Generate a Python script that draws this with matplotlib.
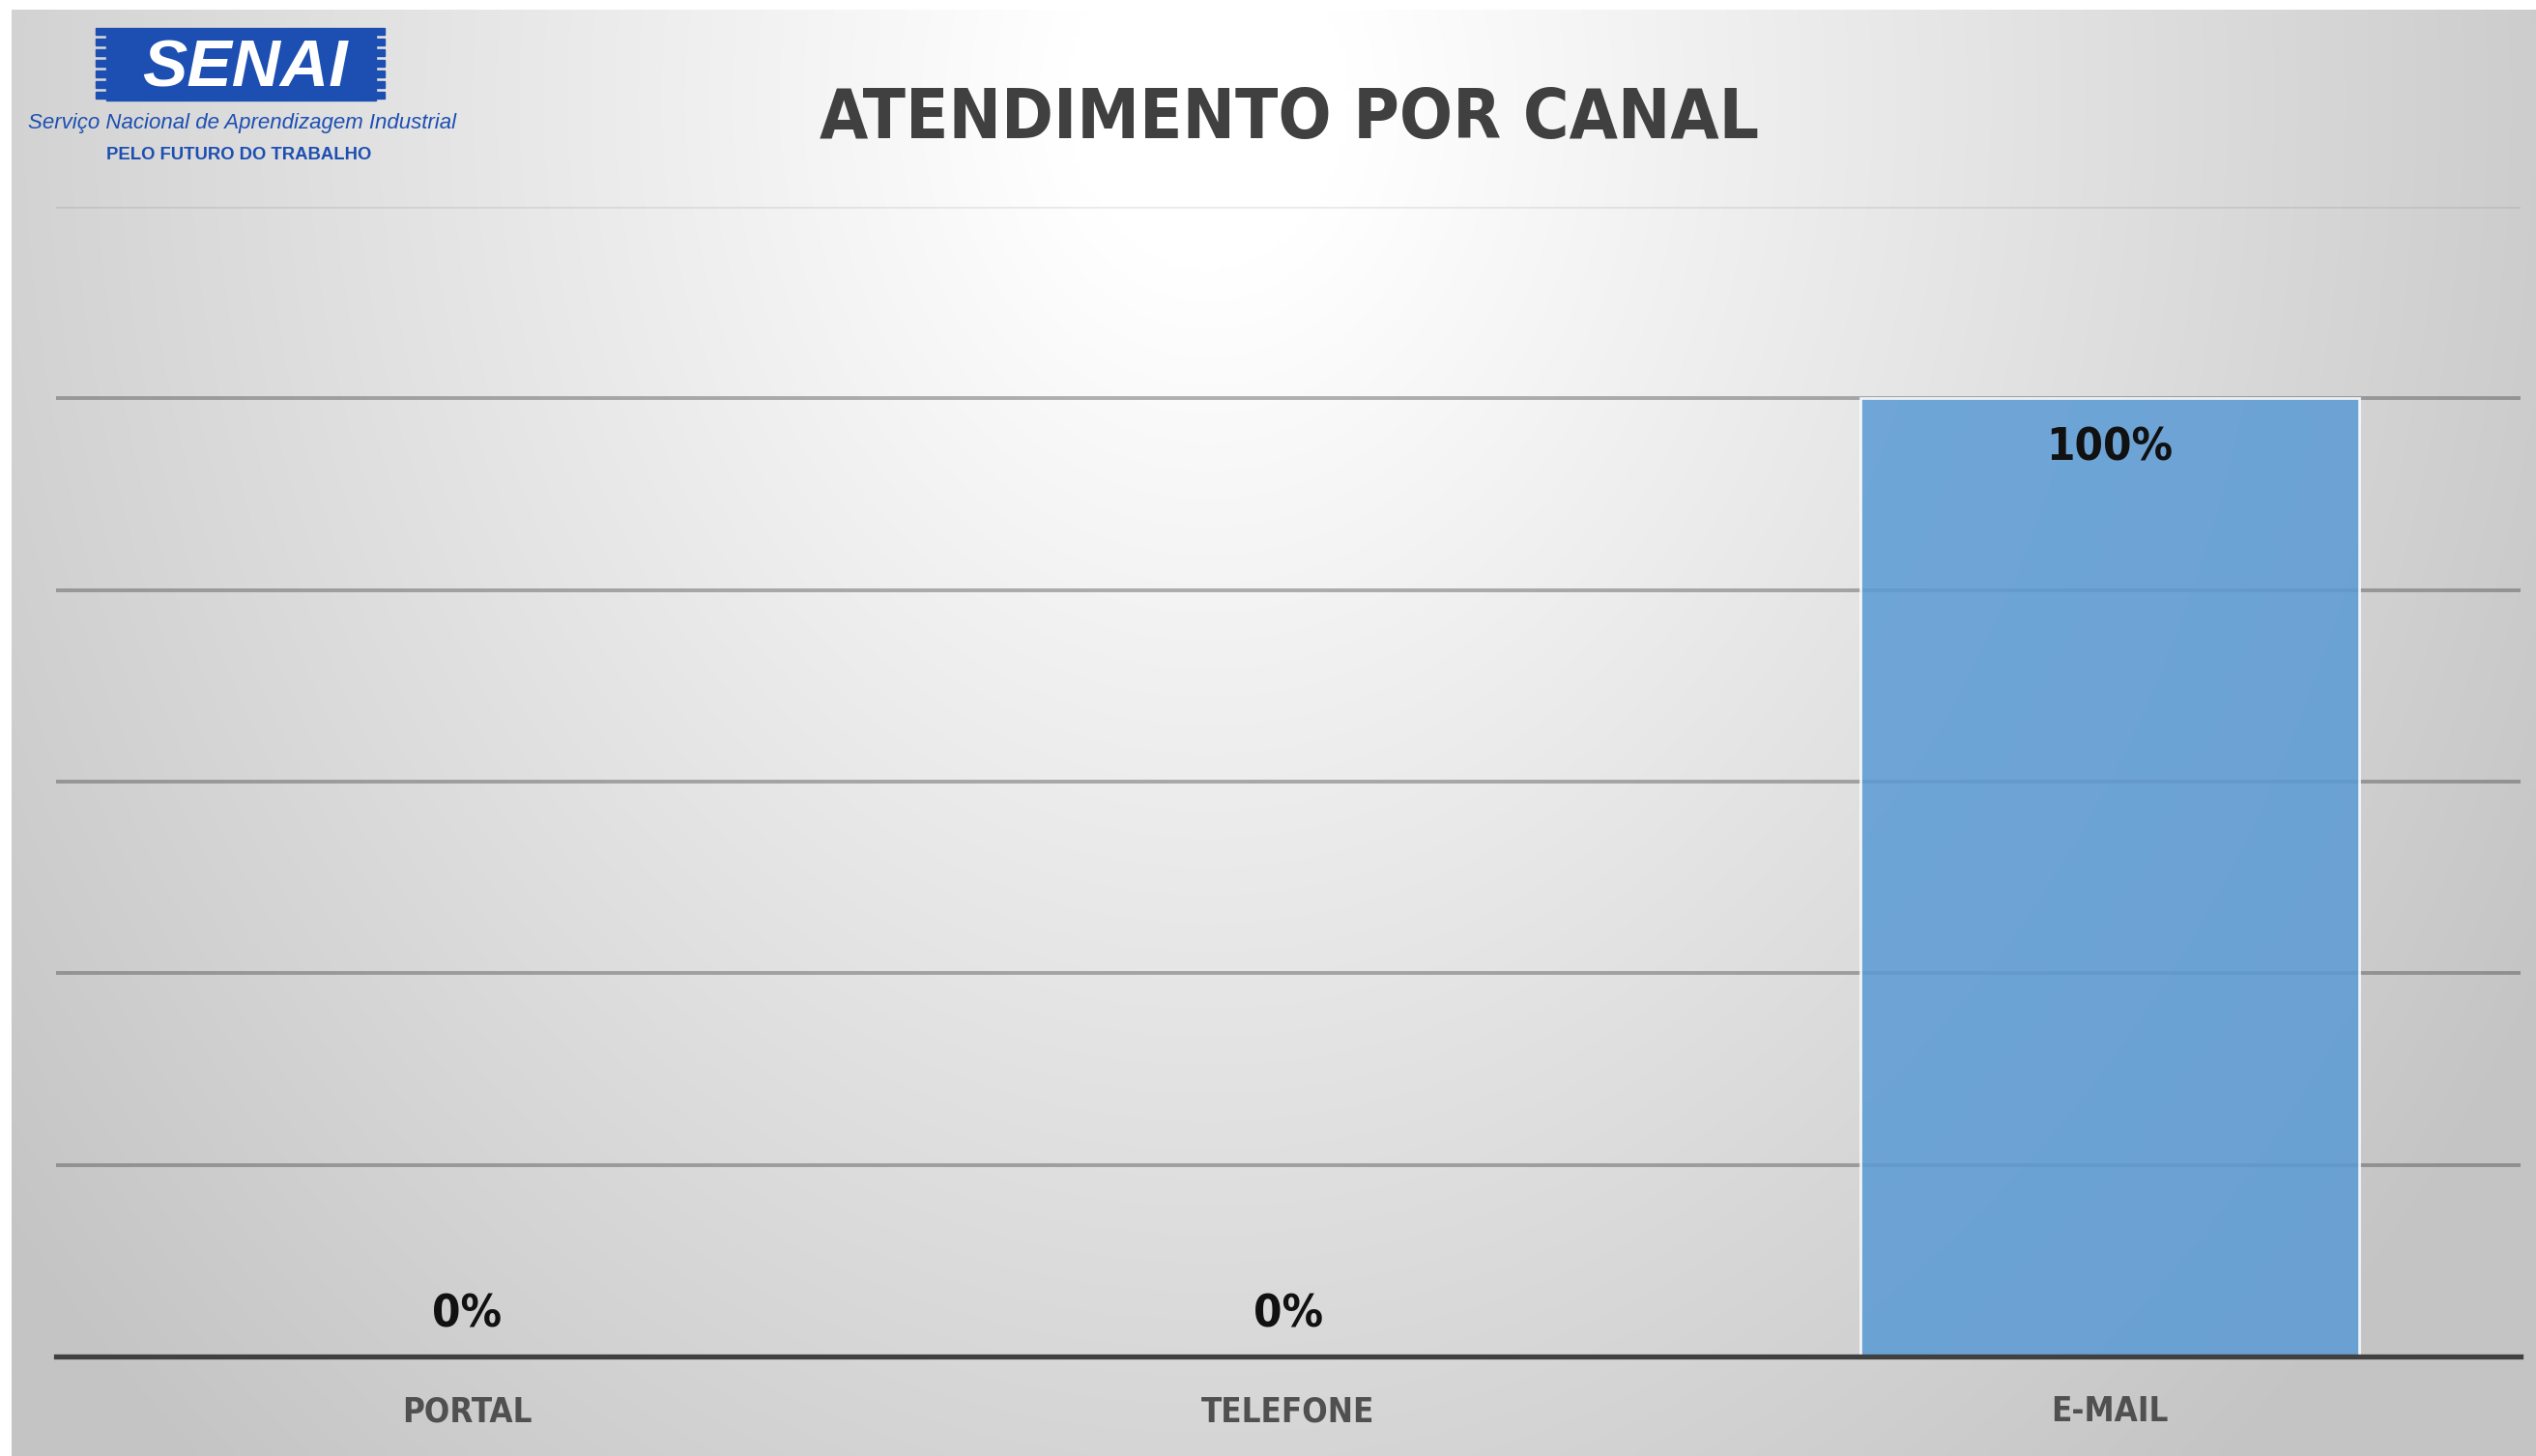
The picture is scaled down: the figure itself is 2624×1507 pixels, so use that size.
import numpy as np
import matplotlib
matplotlib.use("Agg")
import matplotlib.pyplot as plt
from matplotlib import font_manager as fm
from matplotlib.patches import Rectangle

# dados
categorias = ["PORTAL", "TELEFONE", "E-MAIL"]
valores = [0, 0, 100]
rotulos = ["0%", "0%", "100%"]
titulo = "ATENDIMENTO POR CANAL"
y_ticks = [0, 20, 40, 60, 80, 100, 120]

W, H = 2624, 1507
DPI = 100


def fx(px):
    return px / W


def fy(py):
    return 1 - py / H


# fonte condensada (procura o que houver instalado)
def fonte_condensada():
    cand = None
    for f in fm.fontManager.ttflist:
        w = f.weight if isinstance(f.weight, int) else {"bold": 700}.get(f.weight, 400)
        if f.style != "normal" or w < 700:
            continue
        if f.name == "Liberation Sans Narrow":
            return f.fname
        if f.name == "DejaVu Sans" and f.stretch == "condensed":
            cand = f.fname
    return cand


fpath = fonte_condensada()


def fp(size):
    if fpath:
        return fm.FontProperties(fname=fpath, size=size)
    return fm.FontProperties(family="DejaVu Sans", weight="bold", size=size)


fig = plt.figure(figsize=(W / DPI, H / DPI), dpi=DPI, facecolor="white")

# fundo com gradiente radial
bg = fig.add_axes([fx(12), 0, 1 - fx(12), 1 - 10 / H])
xs = np.linspace(12, W, 400)
ys = np.linspace(10, H, 240)
X, Y = np.meshgrid(xs, ys)
r = np.sqrt(((X - 1250) * 1.2) ** 2 + (Y - 100) ** 2)
v = np.clip(255 - 0.034 * np.clip(r - 180, 0, None), 196, 255) / 255
bg.imshow(np.dstack([v, v, v]), aspect="auto", interpolation="bilinear",
          extent=[0, 1, 0, 1])
bg.set_axis_off()
bg.set_zorder(-5)

ax = fig.add_axes([fx(58), fy(1404), fx(2608) - fx(58), fy(214) - fy(1404)])
ax.set_facecolor("none")

x = np.arange(len(categorias))
ax.bar(x, valores, width=0.607, color="#5b9bd5", alpha=0.86,
       edgecolor="white", linewidth=2, zorder=3)

ax.set_xlim(-0.5, len(categorias) - 0.5)
ax.set_ylim(0, 120)
ax.set_yticks(y_ticks)
ax.set_yticklabels([])
ax.tick_params(axis="y", length=0)
ax.yaxis.grid(True, color="#404040", linewidth=2.8, zorder=2)
ax.set_axisbelow(True)
for gl, t in zip(ax.get_ygridlines(), y_ticks):
    gl.set_alpha(0.1 if t == 120 else 0.4)

for s in ["top", "left", "right"]:
    ax.spines[s].set_visible(False)
ax.spines["bottom"].set_color("#404040")
ax.spines["bottom"].set_linewidth(3.8)
ax.spines["bottom"].set_zorder(4)

ax.set_xticks(x)
ax.set_xticklabels(categorias)
ax.tick_params(axis="x", length=0, pad=29, colors="#505050")
for lb in ax.get_xticklabels():
    lb.set_fontproperties(fp(25))

vmax = max(valores)
for xi, val, lab in zip(x, valores, rotulos):
    if val == vmax:
        ax.annotate(lab, (xi, val), xytext=(0, -21), textcoords="offset points",
                    ha="center", va="top", color="#111111", fontproperties=fp(34),
                    zorder=5)
    else:
        ax.annotate(lab, (xi, val), xytext=(0, 22), textcoords="offset points",
                    ha="center", va="baseline", color="#111111", fontproperties=fp(34),
                    zorder=5)

# titulo
fig.text(fx(1334), fy(143), titulo, ha="center", va="baseline",
         color="#404040", fontproperties=fp(52))

# logo SENAI
azul = "#1d4fb2"
fig.patches.append(Rectangle((fx(110), fy(104)), fx(389) - fx(110), fy(29) - fy(104),
                             transform=fig.transFigure, color=azul, zorder=1))
for k in range(7):
    y0 = 29 + k * 11
    for xa, xb in [(99, 110), (389, 398)]:
        fig.patches.append(Rectangle((fx(xa), fy(y0 + 6.5)), fx(xb) - fx(xa),
                                     fy(y0) - fy(y0 + 6.5),
                                     transform=fig.transFigure, color=azul, zorder=1))
fig.text(fx(253), fy(89), "SENAI", ha="center", va="baseline", color="white",
         fontsize=50, fontweight="bold", fontstyle="italic",
         family="Liberation Sans", zorder=2)
fig.text(fx(251), fy(133), "Serviço Nacional de Aprendizagem Industrial",
         ha="center", va="baseline", color=azul, fontsize=16, fontstyle="italic",
         family="Liberation Sans")
fig.text(fx(247), fy(165), "PELO FUTURO DO TRABALHO", ha="center", va="baseline",
         color=azul, fontsize=13.3, fontweight="bold", family="Liberation Sans")

fig.savefig("out.png", dpi=DPI, facecolor="white")
